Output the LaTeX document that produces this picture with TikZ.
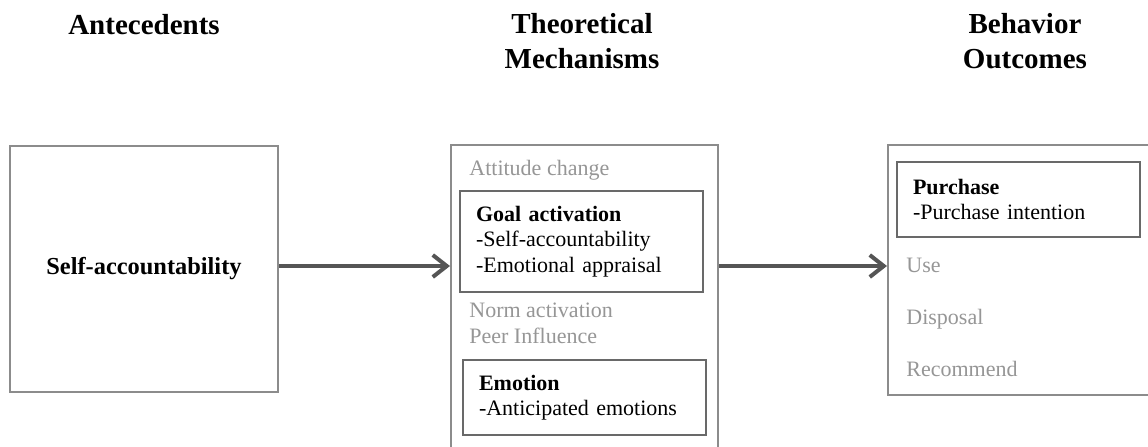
\documentclass[tikz,border=0pt]{standalone}
\usepackage{fontspec}
\setmainfont{Liberation Serif}
\usepackage{tikz}
\usetikzlibrary{arrows.meta, positioning}
\definecolor{framegray}{RGB}{140,140,140}
\definecolor{innergray}{RGB}{105,105,105}
\definecolor{arrowgray}{RGB}{85,85,85}
\definecolor{softgray}{RGB}{150,150,150}
\tikzset{
  header/.style  = {align=center, font=\fontsize{14.5}{17.5}\selectfont\bfseries},
  stage/.style   = {rectangle, draw=framegray, line width=1pt, fill=white},
  inner/.style   = {rectangle, draw=innergray, line width=1pt, align=left,
                    text width=105.5pt, inner xsep=8pt, minimum width=121.5pt,
                    font=\fontsize{11}{12.75}\selectfont},
  faded/.style   = {anchor=base west, inner sep=0pt, text=softgray,
                    font=\fontsize{11}{12.75}\selectfont},
  flow/.style    = {-{Straight Barb[length=7pt, width=11pt]}, line width=2pt,
                    color=arrowgray},
}

\begin{document}
\begin{tikzpicture}[x=0.5pt, y=-0.5pt]
  \useasboundingbox (0,0) rectangle (1148,446);
  \clip (0,0) rectangle (1148,446);

  \node[header, anchor=base] (hant)  at (144,34)  {Antecedents};
  \node[header, anchor=base] (hmech) at (582,68)  {Theoretical\\Mechanisms};
  \node[header, anchor=base] (hout)  at (1025,68) {Behavior\\Outcomes};

  \node[stage, minimum width=134pt, minimum height=123pt,
        font=\fontsize{12.2}{14}\selectfont\bfseries] (ant) at (144,269)
        {Self-accountability};
  \node[stage, minimum width=133.5pt, minimum height=157.5pt] (mech)
        at (584.5,302.5) {};
  \node[stage, minimum width=136pt, minimum height=125pt] (outc)
        at (1024,270) {};

  \node[faded] (attitude) at (469,175) {Attitude change};
  \node[inner, minimum height=50.5pt] (goal) at (581.5,241.5)
        {\textbf{Goal activation}\\-Self-accountability\\-Emotional appraisal};
  \node[faded] (norm) at (469,317) {Norm activation};
  \node[faded] (peer) at (469,343) {Peer Influence};
  \node[inner, minimum height=37.5pt] (emo) at (584.5,397.5)
        {\textbf{Emotion}\\-Anticipated emotions};

  \node[inner, minimum height=37.5pt] (purch) at (1018.5,199.5)
        {\textbf{Purchase}\\-Purchase intention};
  \node[faded] (use)  at (906,272) {Use};
  \node[faded] (disp) at (906,324) {Disposal};
  \node[faded] (rec)  at (906,376) {Recommend};

  \coordinate (axis) at ([yshift=1.5pt]ant.east);
  \draw[flow] (axis) -- (mech.west |- axis);
  \draw[flow] (mech.east |- axis) -- (outc.west |- axis);
\end{tikzpicture}
\end{document}
